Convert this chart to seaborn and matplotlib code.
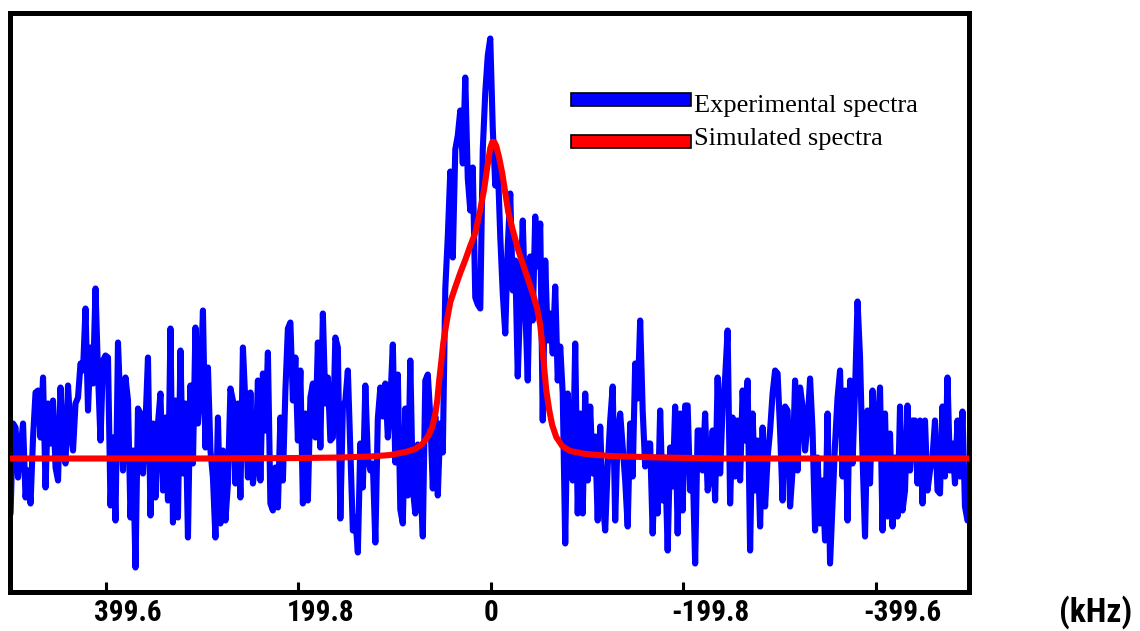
import numpy as np
import pandas as pd
import seaborn as sns
import matplotlib
matplotlib.use("Agg")
import matplotlib.pyplot as plt
from matplotlib import font_manager
from matplotlib.patches import Rectangle
from matplotlib.transforms import ScaledTranslation, blended_transform_factory

# ---------------------------------------------------------------- data
# Experimental spectrum: intensity (a.u.) on a uniform frequency grid (kHz)
exp_part1 = [-55, 35, 31, -19, 10, 35, -39, -12, -45, 21, 66, 68, 21, 81, -29, 55,
             15, 58, -9, -22, 71, 8, -5, 73, 28, 8, 55, 61, 95, 88, 150, 48, 111,
             75, 170, 85, 18, 98, 103, 101, -47, 21, -62, 116, 48, -12, 81]
exp_part2 = [58, -59, 8, -109, 50, 45, -15, 35, 101, -57, 35, -39, 35, 65, -32, 41,
             -42, 130, -64, 58, -59, 108, -15, 55, -79, 73, -5, 131, 35, 71, 148, 11,
             91, 8, -19, -79, 41, -65, 8, -62, -25, 70, 58, -25, 55, -39, 111, 55,
             -19, 66]
exp_part3 = [-25, -5, 78, -22, 85, 28, 106, -45, -52, -9, -49, 41, -22, 68, 130, 136,
             58, 101, 18, 88, -45, 45, -42, 61, 75, 21, 116, 11, 145, 55, 81, 18, 21,
             121, 111, -60, 51, 58, 88, 8, -72, -59, -94, 15, -29, 73, 1, -12, -5, -84]
exp_part4 = [40, 71, 42, 75, 21, 57, 114, -4, 84, -51, -65, 50, -37, 98, -30, -55, 14,
             -22, -78, 78, 84, 42, -30, 42, -37, 35, 6, 170, 222, 287, 201, 309, 323,
             348, 295, 381, 280, 248, 291, 161, 154, 150, 309, 366, 403, 420, 330, 273,
             295, 222]
exp_part5 = [165, 125, 212, 265, 168, 198, 82, 158, 238, 152, 78, 202, 138, 242, 192,
             235, 38, 198, 118, 145, 105, 172, 78, 112, 65, -85, 65, 18, -22, 115, -55,
             45, -55, 65, -22, 52, -15, 22, -62, 32, -42, -72, -8, 38, 72, -62, 25, 45,
             12, -22]
exp_part6 = [-68, 35, -18, 95, 60, 138, 48, -8, 15, 15, -75, 1, -55, 48, -42, 1, -92,
             11, -28, 52, -75, 45, -52, 53, 53, -32, -5, -105, 28, 28, -12, 45, -32,
             -18, 28, -42, 81, -15, 52, 81, 128, -45, 41, -18, 38, -22, 68, 18, 78, -92]
exp_part7 = [45, -32, 18, -68, 31, -48, 1, 28, 65, 88, 85, 28, -42, 52, 48, -48, -12,
             78, -12, 71, 52, 8, 35, 80, 28, -72, 1, -65, -22, -82, 45, -105, -45, 15,
             61, 88, -18, 68, -62, 78, -5, 68, 157, 101, 1, -78, 48, -25, 68, 1]
exp_part8 = [31, 71, -72, 45, -58, 25, -68, 1, -58, 52, -52, -32, 53, -12, 38, 38, -25,
             38, -45, 38, -32, -12, 1, 38, -32, -35, 52, -18, 81, -12, 15, -25, 38, -18,
             47, -48, -62]
exp_freq_start, exp_freq_stop = 498.7, -495.1

# Simulated spectrum
sim_freq = [498.7, 301.5, 197.7, 156.2, 125.1, 104.3, 88.6, 78.4, 71.1, 64.9, 60.7,
            57.6, 55.5, 53.5, 51.4, 49.3, 47.2, 45.1, 42.0, 36.8, 31.7, 26.5, 21.3,
            16.1, 10.9, 6.7, 3.6, 0.5, -1.6, -3.6, -5.7, -8.8, -11.9, -15.1, -18.2,
            -22.3, -28.5, -33.7, -38.9, -44.1, -48.3, -51.4, -53.5, -55.5, -57.6,
            -60.7, -63.8, -68.0, -74.2, -82.5, -98.1, -124.0, -175.9, -238.2, -496.7]
sim_intensity = [0, 0, 0.5, 1, 2, 3.5, 6.5, 9.5, 14.5, 22.5, 31.5, 44.5, 58.5, 78.5,
                 96.5, 115.5, 128.5, 140.5, 156.5, 171.5, 185.5, 198.5, 212.5, 225.5,
                 248.5, 270.5, 291.5, 310.5, 316.5, 316.5, 312.5, 300.5, 285.5, 265.5,
                 246.5, 230.5, 208.5, 193.5, 178.5, 163.5, 149.5, 133.5, 113.5, 90.5,
                 68.5, 48.5, 33.5, 21.5, 12.5, 7.5, 4.5, 2.5, 1, 0, 0]

tick_values = [399.6, 199.8, 0, -199.8, -399.6]
tick_labels = ["399.6", "199.8", "0", "-199.8", "-399.6"]
series_names = ["Experimental spectra", "Simulated spectra"]
series_colors = ["#0000ff", "#ff0000"]

# ---------------------------------------------------------------- frames
exp_intensity = (exp_part1 + exp_part2 + exp_part3 + exp_part4 +
                 exp_part5 + exp_part6 + exp_part7 + exp_part8)
exp_df = pd.DataFrame({
    "freq": np.linspace(exp_freq_start, exp_freq_stop, len(exp_intensity)),
    "intensity": exp_intensity,
})
sim_df = pd.DataFrame({"freq": sim_freq, "intensity": sim_intensity})

# ---------------------------------------------------------------- fonts
sns.set_style("white")
plt.rcParams["text.color"] = "black"
available = {f.name for f in font_manager.fontManager.ttflist}
label_font = next((n for n in ["Liberation Sans Narrow", "Arial Narrow", "Roboto Condensed",
                               "Liberation Sans"] if n in available), "DejaVu Sans")
legend_font = "Liberation Serif" if "Liberation Serif" in available else "DejaVu Serif"

# ---------------------------------------------------------------- figure
fig = plt.figure(figsize=(11.4, 6.31), dpi=100)
ax = fig.add_axes([9.5 / 1140, 39 / 631, 960 / 1140, 579.5 / 631])

sns.lineplot(data=exp_df, x="freq", y="intensity", ax=ax, color=series_colors[0],
             linewidth=4.4, estimator=None, sort=False,
             solid_joinstyle="round", solid_capstyle="round", zorder=2)
sns.lineplot(data=sim_df, x="freq", y="intensity", ax=ax, color=series_colors[1],
             linewidth=4.4, estimator=None, sort=False,
             solid_joinstyle="round", solid_capstyle="round", zorder=3)

ax.set_xlim(499.8, -497.2)
ax.set_ylim(-133.5, 446)
ax.set_xlabel("")
ax.set_ylabel("")
ax.set_yticks([])
ax.set_xticks(tick_values)
ax.set_xticklabels([])
ax.tick_params(axis="x", direction="in", length=7, width=2.2, bottom=True, top=False,
               color="black")
for spine in ax.spines.values():
    spine.set_linewidth(3.6)
    spine.set_color("black")
    spine.set_visible(True)

# tick labels: bold narrow sans, left-aligned slightly before each tick
xform = blended_transform_factory(ax.transData, ax.transAxes)
for val, txt in zip(tick_values, tick_labels):
    if val == 0:
        tr = xform
        ha = "center"
    else:
        tr = xform + ScaledTranslation(-12 / 100, 0, fig.dpi_scale_trans)
        ha = "left"
    ax.text(val, -0.05, txt, transform=tr, ha=ha, va="baseline", color="black",
            fontsize=21, fontweight="bold", family=label_font, clip_on=False)

fig.text(1059 / 1140, (631 - 622) / 631, "(kHz)", ha="left", va="baseline",
         color="black", fontsize=24, fontweight="bold", family=label_font)

# legend: filled bars with black outline, serif labels
legend_rows = [(0.8387, 0.8288), (0.7670, 0.7714)]
for (rect_y, text_y), name, color in zip(legend_rows, series_names, series_colors):
    ax.add_patch(Rectangle((0.5854, rect_y), 0.125, 0.0216, transform=ax.transAxes,
                           facecolor=color, edgecolor="black", linewidth=1.2,
                           zorder=5, clip_on=False))
    ax.text(0.7130, text_y, name, transform=ax.transAxes, ha="left", va="baseline",
            color="black", fontsize=19, family=legend_font, zorder=5)

fig.savefig("out.png", dpi=100)
